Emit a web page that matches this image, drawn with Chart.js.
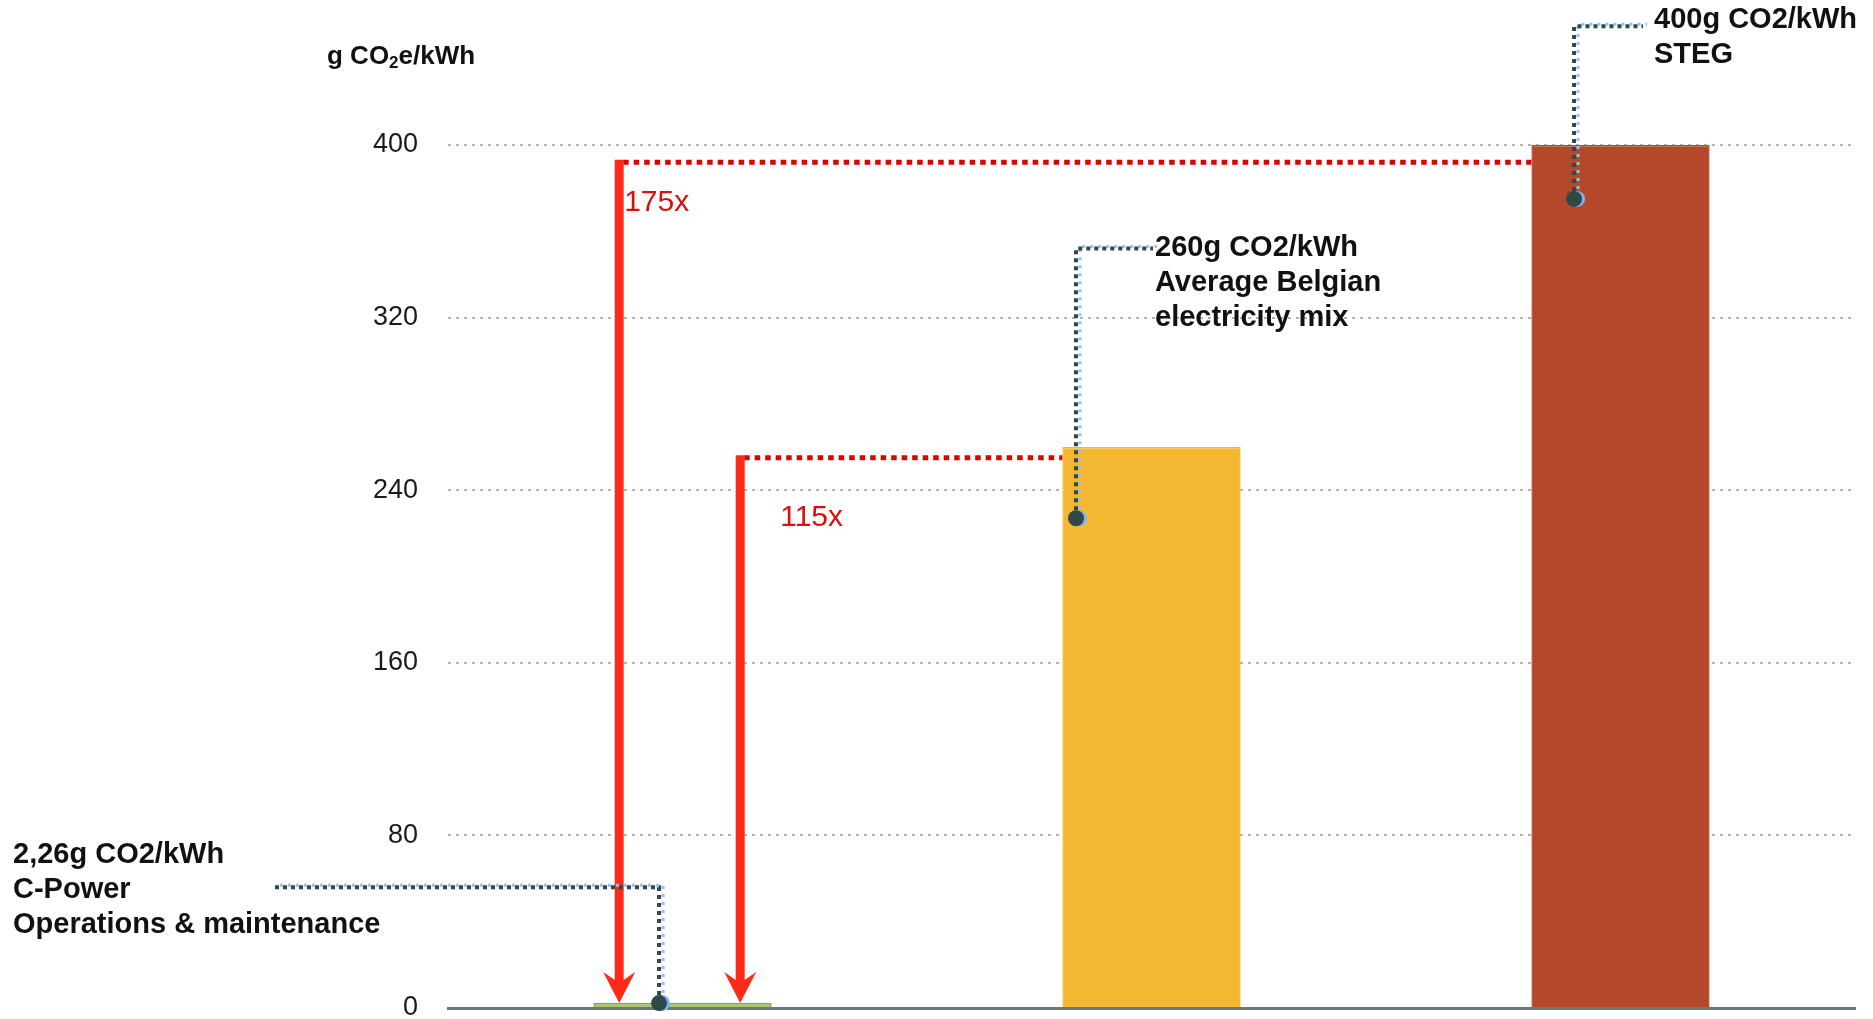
<!DOCTYPE html>
<html>
<head>
<meta charset="utf-8">
<script src="https://cdn.jsdelivr.net/npm/chart.js@4.4.1/dist/chart.umd.min.js"></script>
<style>
  html, body { margin: 0; padding: 0; background: #fff; overflow: hidden; }
  #wrap { width: 1873px; height: 1060px; }
</style>
</head>
<body>
<div id="wrap"><canvas id="co2Chart"></canvas></div>
<script>
// data
const categories = ["C-Power", "Average Belgian electricity mix", "STEG"];
const emissions = [2.26, 260, 400];
const yTicks = [0, 80, 160, 240, 320, 400];
const barColors = ["#a9c36c", "#f4b731", "#b5482b"];
const barBorders = ["#86995c", "#f4b731", "#b5482b"];

// the two ratio arrows
const ratioLabels = ["175x", "115x"];
const ratioLevels = [392, 255];
const ratioTargets = [2, 1];

// callouts
const calloutText = [
  ["2,26g CO2/kWh", "C-Power", "Operations & maintenance"],
  ["260g CO2/kWh", "Average Belgian", "electricity mix"],
  ["400g CO2/kWh", "STEG"],
];
const calloutDotValues = [2.26, 227, 375];
const calloutElbowValues = [56, 352, 455];

// layout of the annotations (x in category units, rest in px)
const arrowX = [-0.135, 0.123];
const arrowLabelOffset = [[5, 40], [40, 60]];
const calloutX = [-0.05, 0.839, 1.901];
const calloutEnd = [275, 1153, 1643];
const calloutTextPos = [[13, 855], [1155, 248], [1654, 20]];

function strokePath(ctx, pts, dx, dy) {
  ctx.beginPath();
  pts.forEach((p, i) => {
    if (i === 0) ctx.moveTo(p[0] + dx, p[1] + dy);
    else ctx.lineTo(p[0] + dx, p[1] + dy);
  });
  ctx.stroke();
}

const annotations = {
  id: "annotations",
  afterDatasetsDraw(chart) {
    const ctx = chart.ctx;
    const x = chart.scales.x;
    const y = chart.scales.y;
    const bars = chart.getDatasetMeta(0).data;
    ctx.save();

    // red dotted lines and arrows
    ratioLabels.forEach((label, i) => {
      const ax = x.getPixelForValue(arrowX[i]);
      const ly = y.getPixelForValue(ratioLevels[i]);
      const bar = bars[ratioTargets[i]];
      const barLeft = bar.x - bar.width / 2;
      const tipY = y.getPixelForValue(emissions[0]);

      ctx.strokeStyle = "#e00000";
      ctx.lineWidth = 5;
      ctx.setLineDash([5.5, 5]);
      strokePath(ctx, [[ax + 4, ly], [barLeft, ly]], 0, 0);

      ctx.setLineDash([]);
      ctx.strokeStyle = "#ff2a18";
      ctx.lineWidth = 9;
      strokePath(ctx, [[ax, ly - 2.5], [ax, tipY - 18]], 0, 0);

      ctx.fillStyle = "#ff2a18";
      ctx.beginPath();
      ctx.moveTo(ax, tipY);
      ctx.lineTo(ax - 16, tipY - 31);
      ctx.lineTo(ax, tipY - 20);
      ctx.lineTo(ax + 16, tipY - 31);
      ctx.closePath();
      ctx.fill();

      ctx.fillStyle = "#d81010";
      ctx.font = "30px 'Liberation Sans'";
      ctx.textBaseline = "middle";
      ctx.textAlign = "left";
      ctx.fillText(label, ax + arrowLabelOffset[i][0], ly + arrowLabelOffset[i][1]);
    });

    // callout leaders + text
    calloutText.forEach((lines, i) => {
      const dx = x.getPixelForValue(calloutX[i]);
      const dy = y.getPixelForValue(calloutDotValues[i]);
      const ey = y.getPixelForValue(calloutElbowValues[i]);
      const pts = [[dx, dy], [dx, ey], [calloutEnd[i], ey]];

      ctx.setLineDash([3, 5]);
      ctx.strokeStyle = "#93c3f2";
      ctx.lineWidth = 3;
      strokePath(ctx, pts, 4, -2);

      ctx.setLineDash([4, 4]);
      ctx.strokeStyle = "#2f4949";
      ctx.lineWidth = 4;
      strokePath(ctx, pts, 0, 0);

      ctx.setLineDash([]);
      ctx.fillStyle = "#7fb4ec";
      ctx.beginPath();
      ctx.arc(dx + 3, dy, 8, 0, Math.PI * 2);
      ctx.fill();
      ctx.fillStyle = "#2f4848";
      ctx.beginPath();
      ctx.arc(dx, dy, 8, 0, Math.PI * 2);
      ctx.fill();

      ctx.fillStyle = "#111";
      ctx.font = "bold 29px 'Liberation Sans'";
      ctx.textBaseline = "middle";
      ctx.textAlign = "left";
      lines.forEach((t, j) => {
        ctx.fillText(t, calloutTextPos[i][0], calloutTextPos[i][1] + j * 35);
      });
    });

    // axis title with subscript
    ctx.fillStyle = "#111";
    ctx.textBaseline = "middle";
    ctx.font = "bold 26px 'Liberation Sans'";
    let tx = 327;
    ctx.fillText("g CO", tx, 57);
    tx += ctx.measureText("g CO").width;
    ctx.font = "bold 17px 'Liberation Sans'";
    ctx.fillText("2", tx, 63);
    tx += ctx.measureText("2").width;
    ctx.font = "bold 26px 'Liberation Sans'";
    ctx.fillText("e/kWh", tx, 57);

    ctx.restore();
  },
};

new Chart(document.getElementById("co2Chart"), {
  type: "bar",
  data: {
    labels: categories,
    datasets: [{
      data: emissions,
      backgroundColor: barColors,
      borderColor: barBorders,
      borderWidth: 1.5,
      barPercentage: 0.38,
      categoryPercentage: 1,
    }],
  },
  options: {
    responsive: true,
    maintainAspectRatio: false,
    animation: false,
    layout: { padding: { top: 145, right: 18, bottom: 52, left: 0 } },
    plugins: {
      legend: { display: false },
      tooltip: { enabled: false },
    },
    scales: {
      x: {
        grid: { display: false },
        ticks: { display: false },
        border: { display: true, color: "#6b7a78", width: 3 },
        afterFit(s) { s.height = 0; },
      },
      y: {
        min: 0,
        max: 400,
        afterBuildTicks(s) { s.ticks = yTicks.map(v => ({ value: v })); },
        afterFit(s) { s.width = 448; },
        ticks: {
          padding: 30,
          color: "#1a1a1a",
          font: { family: "Liberation Sans", size: 27 },
        },
        grid: { color: "#b3b3b3", lineWidth: 2, drawTicks: false },
        border: { display: false, dash: [3, 5] },
      },
    },
  },
  plugins: [annotations],
});
</script>
</body>
</html>
